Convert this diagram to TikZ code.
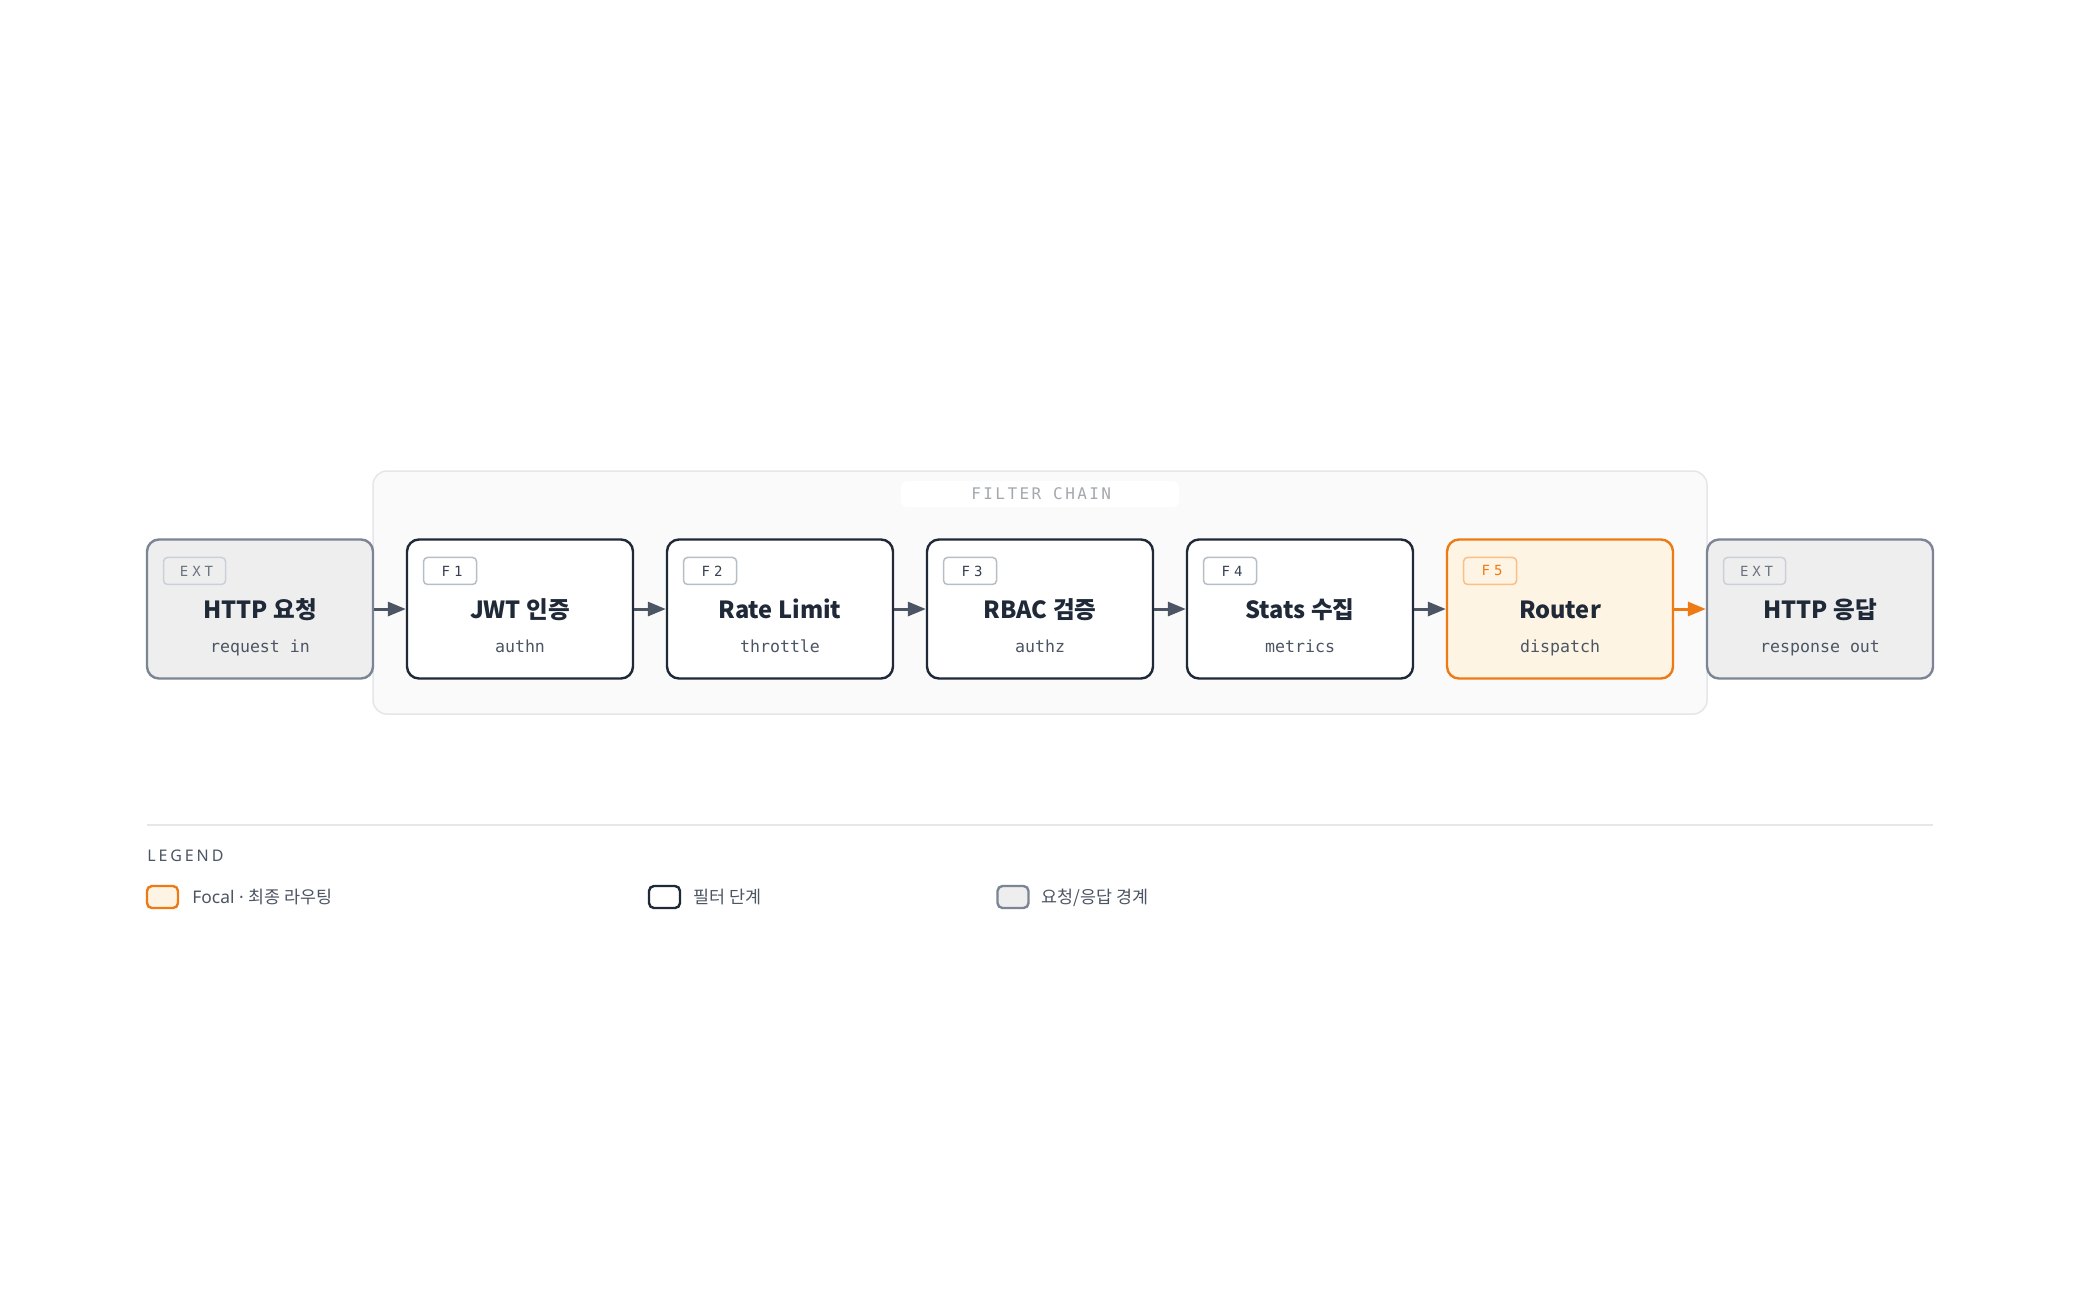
\documentclass[tikz,border=0pt]{standalone}
\usepackage{fontspec}
\setmainfont{Noto Sans}
\newfontfamily\kr{Noto Sans CJK KR}
\newfontfamily\mono{DejaVu Sans Mono}
\newfontfamily\monotag[LetterSpace=28]{DejaVu Sans Mono}
\newfontfamily\monofc[LetterSpace=15]{DejaVu Sans Mono}
\newfontfamily\legls[LetterSpace=18]{Noto Sans}
\usetikzlibrary{arrows.meta}
\definecolor{extfill}{HTML}{EEEEEE}
\definecolor{extborder}{HTML}{7C8595}
\definecolor{fborder}{HTML}{1F2937}
\definecolor{focalfill}{HTML}{FEF4E4}
\definecolor{focalborder}{HTML}{EE7A16}
\definecolor{contfill}{HTML}{FAFAFA}
\definecolor{contborder}{HTML}{E6E6E8}
\definecolor{arrowcol}{HTML}{4B5563}
\definecolor{titlecol}{HTML}{1F2937}
\definecolor{subcol}{HTML}{4B5563}
\definecolor{tagborder}{HTML}{B8BEC6}
\definecolor{exttagborder}{HTML}{CBD0D8}
\definecolor{tagtext}{HTML}{374151}
\definecolor{exttagtext}{HTML}{6B7280}
\definecolor{focaltagborder}{HTML}{FBBF85}
\definecolor{fclabel}{HTML}{A3A8AE}
\definecolor{legline}{HTML}{E5E7EB}
\definecolor{legtext}{HTML}{4B5563}
\tikzset{
  box/.style={rounded corners=6pt, minimum width=113pt, minimum height=69.5pt, line width=1.2pt, inner sep=0pt},
  extbox/.style={box, fill=extfill, draw=extborder},
  fltbox/.style={box, fill=white, draw=fborder},
  focalbox/.style={box, fill=focalfill, draw=focalborder},
  tagbase/.style={rounded corners=2pt, line width=0.75pt, minimum height=13.5pt, inner sep=0pt, anchor=north west, font=\monotag\fontsize{7pt}{8pt}\selectfont},
  exttag/.style={tagbase, minimum width=31pt, fill=extfill, draw=exttagborder, text=exttagtext},
  flttag/.style={tagbase, minimum width=26.5pt, fill=white, draw=tagborder, text=tagtext},
  focaltag/.style={tagbase, minimum width=26.5pt, fill=focalfill, draw=focaltagborder, text=focalborder},
  title/.style={font=\kr\bfseries\fontsize{11.8pt}{13pt}\selectfont, text=titlecol, anchor=base, inner sep=0pt},
  subt/.style={font=\mono\fontsize{8.3pt}{10pt}\selectfont, text=subcol, anchor=base, inner sep=0pt},
  arr/.style={line width=1.5pt, draw=arrowcol, -{Triangle[length=9pt,width=7pt]}},
  focalarr/.style={arr, draw=focalborder, -{Triangle[length=9pt,width=7pt,fill=focalborder]}},
  swatch/.style={rounded corners=2.5pt, minimum width=15.5pt, minimum height=11pt, line width=1.2pt, inner sep=0pt},
  legitem/.style={font=\fontsize{8.7pt}{10pt}\selectfont, text=legtext, anchor=base west, inner sep=0pt}
}
\begin{document}
\begin{tikzpicture}[x=0.5pt,y=-0.5pt]
\useasboundingbox[fill=white] (0,0) rectangle (2080,1302);
% container
\node[draw=contborder, fill=contfill, line width=0.75pt, rounded corners=7pt, minimum width=667pt, minimum height=121.5pt, inner sep=0pt] (cont) at (1040,592.5) {};
\node[fill=white, rounded corners=3pt, minimum width=139pt, minimum height=13pt, inner sep=0pt, text=fclabel, font=\monofc\fontsize{8pt}{9pt}\selectfont] (fclab) at (1040,494) {FILTER CHAIN\kern-1.2pt};
% boxes
\node[extbox] (b0) at (260,609) {};
\node[fltbox] (b1) at (520,609) {};
\node[fltbox] (b2) at (780,609) {};
\node[fltbox] (b3) at (1040,609) {};
\node[fltbox] (b4) at (1300,609) {};
\node[focalbox] (b5) at (1560,609) {};
\node[extbox] (b6) at (1820,609) {};
% tags
\node[exttag] (t0) at ([xshift=8.5pt,yshift=-9.2pt]b0.north west) {EXT\kern-2pt};
\node[flttag] (t1) at ([xshift=8.5pt,yshift=-9.2pt]b1.north west) {F1\kern-2pt};
\node[flttag] (t2) at ([xshift=8.5pt,yshift=-9.2pt]b2.north west) {F2\kern-2pt};
\node[flttag] (t3) at ([xshift=8.5pt,yshift=-9.2pt]b3.north west) {F3\kern-2pt};
\node[flttag] (t4) at ([xshift=8.5pt,yshift=-9.2pt]b4.north west) {F4\kern-2pt};
\node[focaltag] (t5) at ([xshift=8.5pt,yshift=-9.2pt]b5.north west) {F5\kern-2pt};
\node[exttag] (t6) at ([xshift=8.5pt,yshift=-9.2pt]b6.north west) {EXT\kern-2pt};
% titles
\node[title] (n0) at ([yshift=-4.8pt]b0.center) {HTTP 요청};
\node[title] (n1) at ([yshift=-4.8pt]b1.center) {JWT 인증};
\node[title] (n2) at ([yshift=-4.8pt]b2.center) {Rate Limit};
\node[title] (n3) at ([yshift=-4.8pt]b3.center) {RBAC 검증};
\node[title] (n4) at ([yshift=-4.8pt]b4.center) {Stats 수집};
\node[title] (n5) at ([yshift=-4.8pt]b5.center) {Router};
\node[title] (n6) at ([yshift=-4.8pt]b6.center) {HTTP 응답};
% subtitles
\node[subt] (s0) at ([yshift=-21.7pt]b0.center) {request in};
\node[subt] (s1) at ([yshift=-21.7pt]b1.center) {authn};
\node[subt] (s2) at ([yshift=-21.7pt]b2.center) {throttle};
\node[subt] (s3) at ([yshift=-21.7pt]b3.center) {authz};
\node[subt] (s4) at ([yshift=-21.7pt]b4.center) {metrics};
\node[subt] (s5) at ([yshift=-21.7pt]b5.center) {dispatch};
\node[subt] (s6) at ([yshift=-21.7pt]b6.center) {response out};
% arrows
\draw[arr] (b0.east) -- (b1.west);
\draw[arr] (b1.east) -- (b2.west);
\draw[arr] (b2.east) -- (b3.west);
\draw[arr] (b3.east) -- (b4.west);
\draw[arr] (b4.east) -- (b5.west);
\draw[focalarr] (b5.east) -- (b6.west);
% legend
\coordinate (la) at (147,825);
\coordinate (lb) at (1933,825);
\draw[legline, line width=1pt] (la) -- (lb);
\node[anchor=base west, inner sep=0pt, text=legtext, font=\legls\fontsize{8pt}{9pt}\selectfont] (legt) at (147,861) {LEGEND};
\node[swatch, fill=focalfill, draw=focalborder] (sw1) at (162.5,897) {};
\node[legitem] (lt1) at (192,903) {Focal · {\kr 최종 라우팅}};
\node[swatch, fill=white, draw=fborder] (sw2) at (664.5,897) {};
\node[legitem] (lt2) at (693,903) {\kr 필터 단계};
\node[swatch, fill=extfill, draw=extborder] (sw3) at (1013,897) {};
\node[legitem] (lt3) at (1041,903) {\kr 요청/응답 경계};
\end{tikzpicture}
\end{document}
